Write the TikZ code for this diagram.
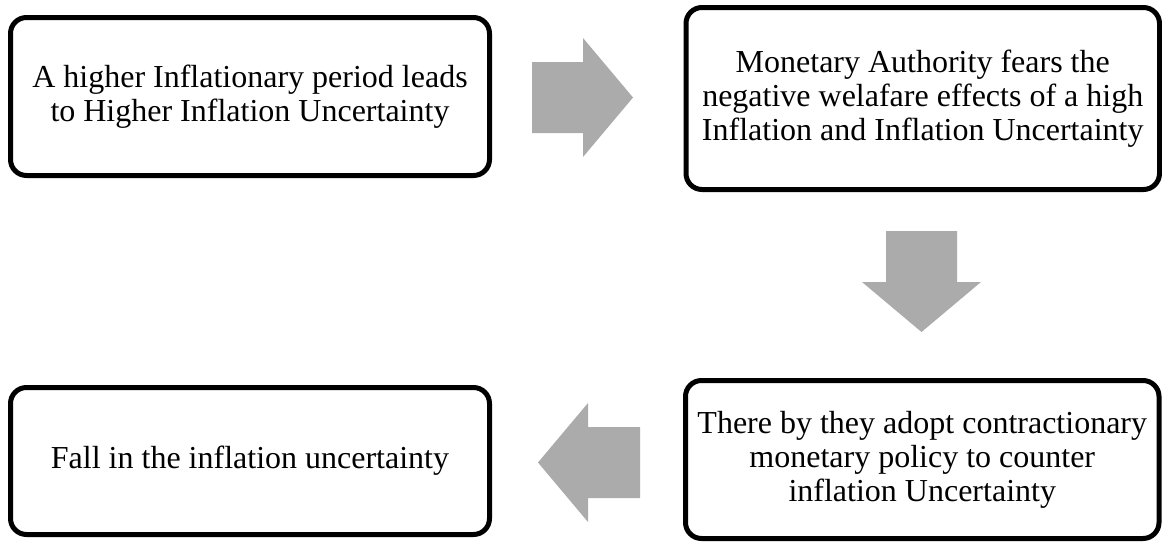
\documentclass[tikz,border=0pt]{standalone}
\usepackage{fontspec}
\setmainfont{Liberation Serif}
\definecolor{arrowgray}{RGB}{171,171,171}
\begin{document}
\begin{tikzpicture}[x=1pt,y=-1pt]
		\tikzstyle{every node}=[font=\fontsize{32pt}{34pt}\selectfont]
		\tikzstyle{stagebox}=[draw, line width=5pt, rounded corners=16pt, align=center, inner sep=0pt]
		\tikzstyle{blockarrow}=[fill=arrowgray, draw=none]
		
		\useasboundingbox (0,0) rectangle (1162,541);
		
		\node[stagebox, minimum width=479pt, minimum height=158pt] (higher) at (250,96.5) {A higher Inflationary period leads\\to Higher Inflation Uncertainty};
		\node[stagebox, minimum width=473.5pt, minimum height=182pt] (fears) at (922.75,98.5) {Monetary Authority fears the\\negative welafare effects of a high\\Inflation and Inflation Uncertainty};
		\node[stagebox, minimum width=473.5pt, minimum height=158pt] (policy) at (922.25,459.5) {There by they adopt contractionary\\monetary policy to counter\\inflation Uncertainty};
		\node[stagebox, minimum width=479pt, minimum height=147pt] (fall) at (250,461) {Fall in the inflation uncertainty};
		
		% block arrows between the stages
		\fill[blockarrow] (532,62) -- (583,62) -- (583,38) -- (633,97.5) -- (583,157) -- (583,133) -- (532,133) -- cycle;
		\fill[blockarrow] (886,231) -- (957,231) -- (957,282) -- (981,282) -- (921.5,332) -- (862,282) -- (886,282) -- cycle;
		\fill[blockarrow] (640,427) -- (588,427) -- (588,403) -- (538,462.5) -- (588,522) -- (588,498) -- (640,498) -- cycle;
		
	\end{tikzpicture}
\end{document}
